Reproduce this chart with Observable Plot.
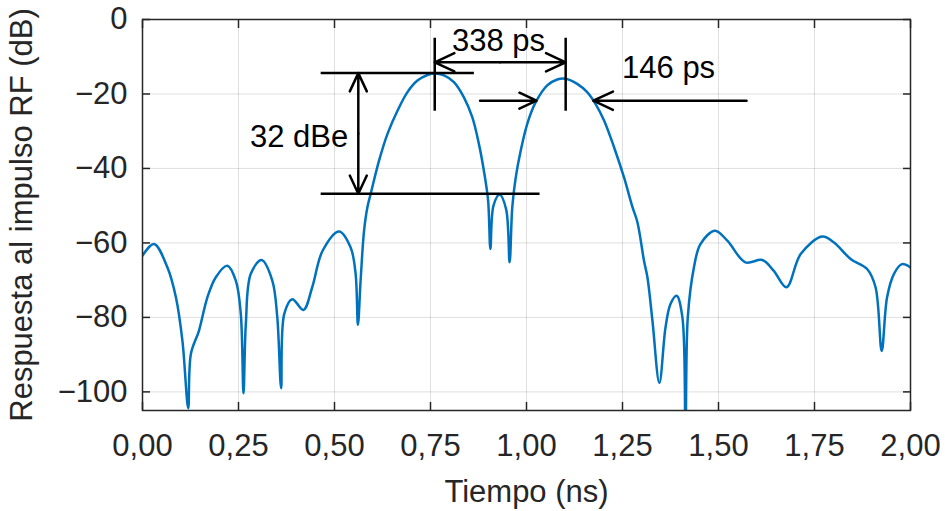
<!DOCTYPE html>
<html><head><meta charset="utf-8">
<script src="https://cdn.jsdelivr.net/npm/d3@7"></script>
<script src="https://cdn.jsdelivr.net/npm/@observablehq/plot@0.6"></script>
<style>body{margin:0;background:#fff}</style>
</head><body><div id="chart"></div>
<script>
// ---- data ----
const time = [0, 0.030, 0.065, 0.087, 0.104, 0.119, 0.126, 0.147, 0.169, 0.191, 0.221, 0.243, 0.256, 0.263, 0.269, 0.282, 0.310, 0.338, 0.351, 0.361, 0.369, 0.390, 0.419, 0.442, 0.469, 0.512, 0.542, 0.555, 0.561, 0.568, 0.577, 0.5857, 0.5943, 0.616, 0.638, 0.664, 0.690, 0.716, 0.742, 0.761, 0.785, 0.811, 0.837, 0.859, 0.876, 0.889, 0.900, 0.906, 0.914, 0.930, 0.947, 0.956, 0.963, 0.972, 0.985, 1.002, 1.024, 1.054, 1.080, 1.102, 1.132, 1.158, 1.180, 1.202, 1.228, 1.254, 1.276, 1.289, 1.306, 1.315, 1.328, 1.346, 1.362, 1.375, 1.391, 1.406, 1.414, 1.420, 1.436, 1.453, 1.491, 1.523, 1.570, 1.614, 1.644, 1.677, 1.714, 1.770, 1.800, 1.844, 1.887, 1.909, 1.925, 1.939, 1.957, 1.978, 2.000];
const response = [-63.4, -60.3, -66.6, -74.6, -86.3, -104.4, -89.8, -83.6, -74.6, -69.2, -66.1, -70.1, -79.1, -100.4, -82.0, -68.3, -64.6, -70.1, -80.0, -99.0, -79.1, -75.1, -78.0, -71.9, -62.1, -56.9, -61.2, -68.3, -82.0, -70.1, -56.7, -50.4, -46.8, -37.9, -30.7, -24.5, -19.5, -16.4, -14.9, -14.5, -15.0, -16.8, -20.9, -26.3, -33.4, -40.6, -48.6, -61.6, -50.0, -47.0, -51.0, -65.2, -50.4, -42.4, -35.2, -28.0, -22.2, -17.7, -16.1, -15.9, -17.3, -19.5, -22.7, -27.1, -34.3, -42.4, -50.4, -54.5, -64.8, -69.3, -80.9, -97.6, -82.7, -76.4, -74.2, -80.0, -112.0, -80.0, -66.6, -60.3, -56.7, -59.4, -65.2, -64.6, -67.5, -71.9, -63.0, -58.3, -59.8, -64.3, -67.0, -71.9, -89.0, -74.6, -68.3, -65.7, -66.6];

const xTicks = [0, 0.25, 0.5, 0.75, 1.0, 1.25, 1.5, 1.75, 2.0];
const yTicks = [0, -20, -40, -60, -80, -100];

// annotations (data units)
const refStart = [0.464, 0.464];
const refEnd = [0.863, 1.034];
const refLevel = [-14.4, -46.8];
const dbeTime = [0.562];
const markerTime = [0.761, 1.102];
const markerTop = [-4.9, -4.9];
const markerBottom = [-24.5, -24.5];
const spanLevel = [-11.5];
const widthFrom = [0.879, 1.573];
const widthTo = [1.026, 1.174];
const widthLevel = [-21.8, -21.8];
const labelText = ["32 dBe", "338 ps", "146 ps"];
const labelTime = [0.4077, 0.927, 1.370];
const labelLevel = [-31.7, -5.7, -13.1];

// ---- build tables ----
const series = time.map((t, i) => ({t, db: response[i]}));
const refLines = refStart.map((s, i) => ({x1: s, x2: refEnd[i], y: refLevel[i]}));
const dbeMid = (refLevel[0] + refLevel[1]) / 2;
const dbeArrows = refLevel.map(l => ({x: dbeTime[0], y1: dbeMid, y2: l}));
const markers = markerTime.map((t, i) => ({x: t, y1: markerTop[i], y2: markerBottom[i]}));
const spanMid = (markerTime[0] + markerTime[1]) / 2;
const spanArrows = markerTime.map(t => ({x1: spanMid, x2: t, y: spanLevel[0]}));
const widthArrows = widthFrom.map((f, i) => ({x1: f, x2: widthTo[i], y: widthLevel[i]}));
const labels = labelText.map((s, i) => ({s, x: labelTime[i], y: labelLevel[i]}));

const fmtX = d => d.toFixed(2).replace(".", ",");
const fmtY = d => d === 0 ? "0" : "\u2212" + Math.abs(d);
const axisColor = "#262626";
const arrowOpts = {stroke: "black", strokeWidth: 2.5, headLength: 13, headAngle: 50};

const chart = Plot.plot({
  width: 945, height: 511,
  marginLeft: 142, marginRight: 35, marginTop: 19, marginBottom: 101,
  style: {fontFamily: "'Liberation Sans', Arial, sans-serif", fontSize: "31px", background: "#fff", overflow: "visible"},
  x: {domain: [0, 2]},
  y: {domain: [-105, 0]},
  marks: [
    Plot.gridX(xTicks, {stroke: axisColor, strokeOpacity: 0.15, strokeWidth: 1}),
    Plot.gridY(yTicks, {stroke: axisColor, strokeOpacity: 0.15, strokeWidth: 1}),
    Plot.line(series, {x: "t", y: "db", stroke: "#0072BD", strokeWidth: 2.5, curve: "catmull-rom", clip: true}),
    Plot.link(refLines, {x1: "x1", x2: "x2", y1: "y", y2: "y", stroke: "black", strokeWidth: 2.5}),
    Plot.arrow(dbeArrows, {x1: "x", x2: "x", y1: "y1", y2: "y2", ...arrowOpts}),
    Plot.link(markers, {x1: "x", x2: "x", y1: "y1", y2: "y2", stroke: "black", strokeWidth: 2.5}),
    Plot.arrow(spanArrows, {x1: "x1", x2: "x2", y1: "y", y2: "y", ...arrowOpts}),
    Plot.arrow(widthArrows, {x1: "x1", x2: "x2", y1: "y", y2: "y", ...arrowOpts}),
    Plot.text(labels, {x: "x", y: "y", text: "s", fill: "black", fontSize: 31, textAnchor: "middle"}),
    Plot.frame({stroke: axisColor, strokeWidth: 1.5}),
    // tick marks pointing inward on all four sides
    Plot.axisX(xTicks, {anchor: "bottom", tickSize: 8, dy: -8, fill: "none", stroke: axisColor, strokeWidth: 1.5, label: null}),
    Plot.axisX(xTicks, {anchor: "top", tickSize: 8, dy: 8, fill: "none", stroke: axisColor, strokeWidth: 1.5, label: null}),
    Plot.axisY(yTicks, {anchor: "left", tickSize: 8, dx: 8, fill: "none", stroke: axisColor, strokeWidth: 1.5, label: null}),
    Plot.axisY(yTicks, {anchor: "right", tickSize: 8, dx: -8, fill: "none", stroke: axisColor, strokeWidth: 1.5, label: null}),
    // labels
    Plot.axisX(xTicks, {anchor: "bottom", tickSize: 0, tickPadding: 23, tickFormat: fmtX, fill: axisColor, fontSize: 31,
      label: "Tiempo (ns)", labelAnchor: "center", labelOffset: 91, labelArrow: "none"}),
    Plot.axisY(yTicks, {anchor: "left", tickSize: 0, tickPadding: 15, tickFormat: fmtY, fill: axisColor, fontSize: 31,
      label: "Respuesta al impulso RF (dB)", labelAnchor: "center", labelOffset: 133, labelArrow: "none"})
  ]
});
document.getElementById("chart").append(chart);
</script>
</body></html>
